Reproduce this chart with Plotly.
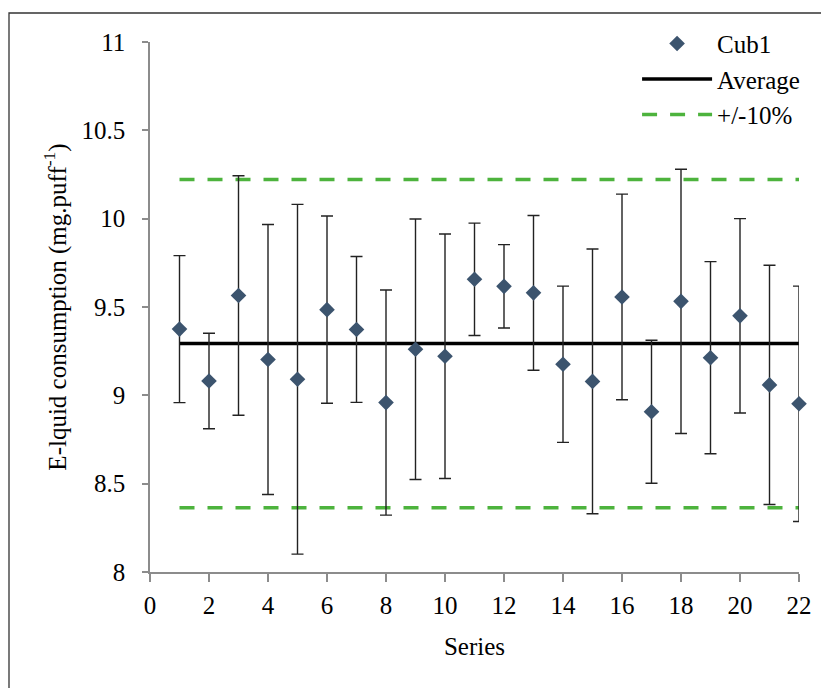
import plotly.graph_objects as go

series = list(range(1, 23))
cub1 = [9.375, 9.081, 9.565, 9.203, 9.091, 9.485, 9.373, 8.959, 9.261, 9.221, 9.657,
        9.617, 9.580, 9.176, 9.079, 9.557, 8.907, 9.532, 9.213, 9.450, 9.059, 8.952]
cub1_err = [0.416, 0.270, 0.678, 0.764, 0.990, 0.530, 0.413, 0.637, 0.737, 0.692, 0.318,
            0.236, 0.438, 0.442, 0.749, 0.582, 0.405, 0.748, 0.544, 0.550, 0.677, 0.666]
average = 9.293
band = [1.1, 0.9]
x_ticks = list(range(0, 23, 2))
y_ticks = [8, 8.5, 9, 9.5, 10, 10.5, 11]

FONT = "Liberation Serif"
FS = 25

fig = go.Figure()

x_band = [series[0], series[-1], None, series[0], series[-1]]
y_band = [average * band[0], average * band[0], None, average * band[1], average * band[1]]
fig.add_trace(go.Scatter(
    x=x_band, y=y_band, mode="lines", name="+/-10%",
    line=dict(color="#4DB33D", width=3.5, dash="15px,13px"),
    legendgroup="c", legendrank=3, cliponaxis=False,
))
fig.add_trace(go.Scatter(
    x=[series[0], series[-1]], y=[average, average], mode="lines", name="Average",
    line=dict(color="black", width=3.5),
    legendgroup="b", legendrank=2, cliponaxis=False,
))
fig.add_trace(go.Scatter(
    x=series, y=cub1, mode="markers", name="Cub1",
    marker=dict(symbol="diamond", size=12, color="#3C546E"),
    error_y=dict(type="data", array=cub1_err, visible=True, color="#222222",
                 thickness=1.4, width=6),
    legendgroup="a", legendrank=1, cliponaxis=False,
))

# page body adds an 8px offset; the figure is sized and placed to compensate
fig.update_layout(
    width=821, height=680,
    margin=dict(l=142, r=30, t=34, b=116),
    paper_bgcolor="white", plot_bgcolor="white",
    font=dict(family=FONT, size=FS, color="black"),
    showlegend=True,
    legend=dict(x=0.7505, y=1.04, xanchor="left", yanchor="top",
                itemwidth=70, tracegroupgap=0, traceorder="grouped",
                bgcolor="rgba(0,0,0,0)", font=dict(family=FONT, size=FS)),
    shapes=[dict(type="rect", xref="paper", yref="paper",
                 x0=(9 - 150) / 649, x1=(850 - 150) / 649,
                 y0=(572 - 720) / 530, y1=(572 - 13) / 530,
                 line=dict(color="#333333", width=1.3), fillcolor="rgba(0,0,0,0)",
                 layer="below")],
)
fig.update_xaxes(
    range=[0, 22], tickvals=x_ticks, ticktext=[str(v) for v in x_ticks],
    showgrid=False, zeroline=False, showline=True, linecolor="#8C8C8C", linewidth=1.5,
    ticks="outside", ticklen=8, tickcolor="#8C8C8C", tickwidth=1.5,
    ticklabelstandoff=2,
    title=dict(text="Series", standoff=20, font=dict(family=FONT, size=FS)),
)
fig.update_yaxes(
    range=[8, 11], tickvals=y_ticks, ticktext=["8", "8.5", "9", "9.5", "10", "10.5", "11"],
    showgrid=False, zeroline=False, showline=True, linecolor="#8C8C8C", linewidth=1.5,
    ticks="outside", ticklen=6, tickcolor="#8C8C8C", tickwidth=1.5,
    ticklabelstandoff=12,
    title=dict(text="E-lquid consumption (mg.puff<sup>-1</sup>)", standoff=8,
               font=dict(family=FONT, size=FS)),
)

fig.write_html("out.html")
